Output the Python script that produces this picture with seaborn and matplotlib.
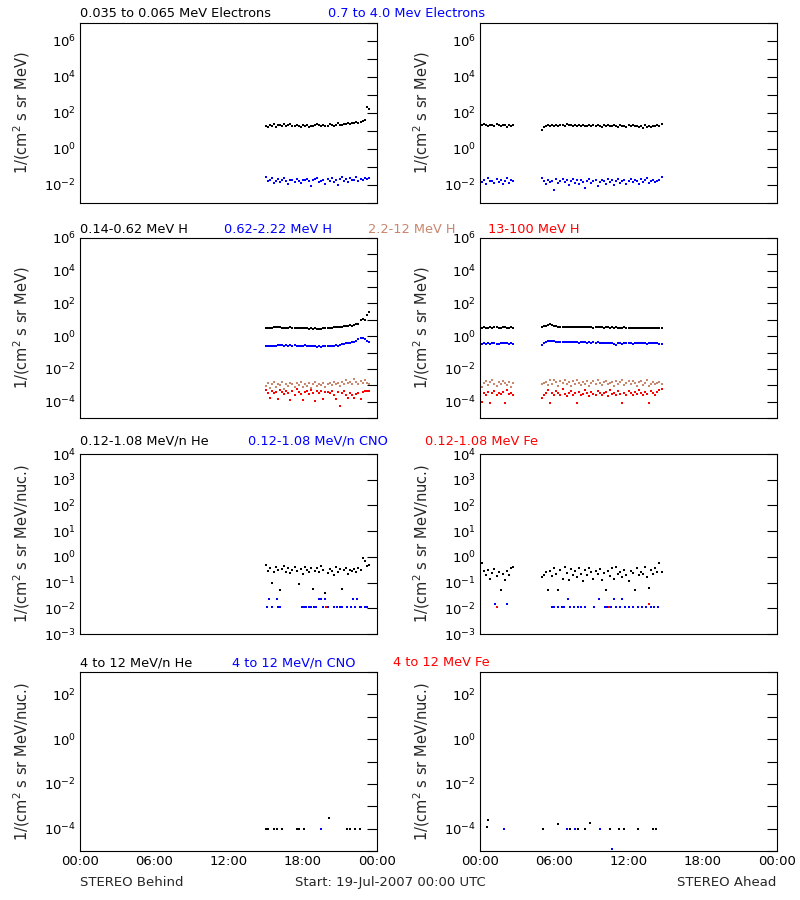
import numpy as np
import pandas as pd
import matplotlib
matplotlib.use("Agg")
import matplotlib.pyplot as plt
import matplotlib.ticker as mticker
import seaborn as sns

sns.set_style("white")
plt.rcParams["font.family"] = ["DejaVu Sans"]
plt.rcParams["mathtext.default"] = "regular"

BLUE = "#0000ff"
TAN = "#c8866c"
RED = "#ff0000"

# time grids (hours of 19-Jul-2007), 10 min cadence
t_behind = np.linspace(15, 23 + 1/3, 51)
t_ahead = np.concatenate([np.linspace(0, 2 + 2/3, 17), np.linspace(5, 14 + 2/3, 59)])

# ---- row 1: electrons (log10 values) ----
e_lo_b = [1.30, 1.22, 1.35, 1.28, 1.38, 1.25, 1.33,
          1.36, 1.30, 1.40, 1.27, 1.33, 1.38,
          1.30, 1.26, 1.34, 1.29, 1.22, 1.31,
          1.27, 1.33, 1.25, 1.30, 1.28, 1.35,
          1.40, 1.32, 1.26, 1.35, 1.30, 1.28,
          1.37, 1.33, 1.29, 1.36, 1.42, 1.31,
          1.34, 1.40, 1.37, 1.44, 1.38, 1.45,
          1.43, 1.48, 1.46, 1.52, 1.55, 1.60,
          2.33, 2.22]
e_hi_b = [-1.55, -1.80, -1.70, -1.62, -1.90, -1.75, -1.68,
          -1.85, -1.72, -1.60, -1.78, -1.95, -1.74,
          -1.70, -1.82, -1.66, -1.76, -1.88, -1.70,
          -1.73, -1.64, -1.80, -2.05, -1.72, -1.67,
          -1.60, -1.84, -1.75, -1.70, -1.92, -1.66,
          -1.78, -1.62, -1.85, -1.72, -1.98, -1.65,
          -1.58, -1.76, -1.66, -1.82, -1.62, -1.74,
          -1.70, -1.58, -1.80, -1.66, -1.74, -1.61,
          -1.68, -1.60]
e_lo_a = [1.25, 1.32, 1.40, 1.35, 1.28, 1.36, 1.33, 1.30, 1.38, 1.34, 1.29, 1.36, 1.31, 1.25, 1.33, 1.28, 1.36,
          1.08, 1.22, 1.30, 1.35, 1.27, 1.33, 1.30, 1.34, 1.28, 1.36,
          1.33, 1.29, 1.37, 1.31, 1.34, 1.27, 1.32, 1.30, 1.35, 1.28,
          1.33, 1.30, 1.26, 1.34, 1.29, 1.31, 1.27, 1.33, 1.30, 1.25,
          1.32, 1.28, 1.35, 1.30, 1.26, 1.31, 1.29, 1.24, 1.33, 1.27,
          1.30, 1.22, 1.32, 1.28, 1.34, 1.26, 1.30, 1.23, 1.29, 1.18,
          1.31, 1.25, 1.28, 1.20, 1.27, 1.30, 1.33, 1.29, 1.38]
e_hi_a = [-2.00, -1.85, -1.70, -1.95, -1.60, -1.80, -1.75, -1.90, -1.65, -1.82, -1.72, -1.95, -1.78, -1.62, -1.88, -1.70, -1.80,
          -1.62, -1.80, -1.95, -1.70, -1.85, -1.75, -2.30, -1.68, -1.90, -1.78,
          -1.66, -1.85, -1.72, -2.00, -1.76, -1.64, -1.88, -1.74, -1.95, -1.70,
          -1.82, -2.15, -1.78, -1.66, -1.90, -1.80, -1.72, -2.05, -1.86, -1.70,
          -1.76, -1.94, -1.68, -1.82, -1.74, -2.02, -1.80, -1.66, -1.88, -1.76,
          -1.70, -1.92, -1.78, -1.64, -1.86, -1.72, -1.80, -1.96, -1.68, -1.84,
          -1.74, -1.62, -1.90, -1.78, -1.70, -1.86, -1.80, -1.74, -1.58]

# ---- row 2: protons (log10 values) ----
h1_b = [0.52, 0.50, 0.53, 0.51, 0.54, 0.55, 0.56,
        0.57, 0.50, 0.52, 0.53, 0.51, 0.54,
        0.52, 0.50, 0.49, 0.51, 0.50, 0.48,
        0.47, 0.50, 0.46, 0.48, 0.45, 0.47,
        0.44, 0.46, 0.45, 0.49, 0.51, 0.50,
        0.50, 0.53, 0.54, 0.56, 0.55, 0.58,
        0.57, 0.62, 0.64, 0.63, 0.68, 0.65,
        0.70, 0.72, 0.75, 1.00, 1.02, 1.00,
        1.28, 1.48]
h2_b = [-0.60, -0.58, -0.59, -0.57, -0.60, -0.58, -0.56,
        -0.55, -0.54, -0.57, -0.55, -0.58, -0.56,
        -0.57, -0.55, -0.60, -0.62, -0.58, -0.57,
        -0.56, -0.59, -0.62, -0.60, -0.57, -0.63,
        -0.66, -0.62, -0.64, -0.60, -0.58, -0.61,
        -0.59, -0.60, -0.58, -0.56, -0.57, -0.55,
        -0.50, -0.45, -0.42, -0.44, -0.40, -0.36,
        -0.38, -0.30, -0.20, -0.12, -0.10, -0.18,
        -0.28, -0.35]
h3_b = [-3.05, -2.85, -3.15, -2.95, -2.80, -3.10, -2.90,
        -3.00, -2.82, -3.20, -2.92, -3.05, -2.88,
        -2.95, -3.12, -2.85, -3.00, -2.78, -3.08,
        -2.90, -3.02, -2.86, -3.15, -2.95, -2.82,
        -3.05, -2.90, -2.98, -2.84, -3.10, -2.92,
        -2.88, -3.00, -2.80, -2.94, -2.86, -3.05,
        -2.78, -2.92, -2.70, -2.88, -2.82, -2.95,
        -2.62, -2.80, -2.90, -2.72, -2.85, -2.68,
        -2.85, -2.90]
h4_b = [-3.30, -3.45, -3.80, -3.35, -3.50, -3.40, -3.85,
        -3.30, -3.42, -3.55, -3.38, -3.48, -3.90,
        -3.36, -3.60, -3.25, -3.44, -3.52, -3.90,
        -3.40, -3.35, -3.55, -3.30, -3.46, -3.95,
        -3.38, -3.50, -3.32, -3.85, -3.44, -3.40,
        -3.48, -3.36, -3.58, -3.85, -3.42, -4.25,
        -3.50, -3.38, -3.62, -3.80, -3.45, -3.58,
        -3.80, -3.52, -3.48, -3.85, -3.40, -3.35,
        -3.38, -3.32]
h1_a = [0.50, 0.52, 0.54, 0.51, 0.53, 0.55, 0.52, 0.54, 0.56, 0.53, 0.51, 0.54, 0.55, 0.52, 0.53, 0.54, 0.52,
        0.58, 0.60, 0.62, 0.70, 0.73, 0.66, 0.62, 0.60, 0.58, 0.56,
        0.58, 0.57, 0.55, 0.56, 0.58, 0.57, 0.55, 0.56, 0.54, 0.56,
        0.57, 0.55, 0.54, 0.56, 0.55, 0.53, 0.55, 0.56, 0.54, 0.55,
        0.53, 0.54, 0.55, 0.52, 0.54, 0.53, 0.55, 0.52, 0.50, 0.53,
        0.54, 0.51, 0.52, 0.50, 0.53, 0.51, 0.52, 0.48, 0.50, 0.52,
        0.47, 0.50, 0.51, 0.49, 0.52, 0.50, 0.51, 0.53, 0.52]
h2_a = [-0.42, -0.48, -0.44, -0.46, -0.43, -0.47, -0.44, -0.42, -0.45, -0.46, -0.43, -0.44, -0.41, -0.44, -0.45, -0.43, -0.46,
        -0.55, -0.40, -0.34, -0.30, -0.28, -0.32, -0.30, -0.34, -0.33, -0.36,
        -0.35, -0.34, -0.37, -0.35, -0.36, -0.38, -0.36, -0.37, -0.39, -0.36,
        -0.38, -0.37, -0.40, -0.38, -0.39, -0.37, -0.40, -0.38, -0.42, -0.39,
        -0.41, -0.40, -0.43, -0.40, -0.42, -0.46, -0.52, -0.44, -0.42, -0.45,
        -0.43, -0.41, -0.44, -0.42, -0.45, -0.43, -0.40, -0.44, -0.42, -0.41,
        -0.43, -0.45, -0.42, -0.40, -0.44, -0.41, -0.43, -0.45, -0.46]
h3_a = [-2.95, -3.10, -2.85, -2.75, -3.00, -2.80, -2.70, -2.95, -3.05, -2.78, -2.90, -2.72, -2.85, -3.00, -2.80, -3.10, -2.88,
        -2.95, -2.85, -2.78, -3.00, -2.70, -2.92, -2.65, -2.82, -3.05, -2.75,
        -2.88, -2.70, -2.95, -2.80, -3.02, -2.76, -2.90, -2.68, -2.85, -3.00,
        -2.78, -2.92, -2.72, -3.05, -2.84, -2.75, -2.95, -2.70, -2.88, -3.00,
        -2.80, -2.72, -2.93, -2.85, -2.78, -3.05, -2.75, -2.90, -2.82, -2.70,
        -3.00, -2.86, -2.76, -2.94, -2.72, -2.88, -3.02, -2.80, -2.74, -2.96,
        -2.84, -2.70, -3.05, -2.90, -2.78, -2.95, -2.85, -2.80, -2.92]
h4_a = [-3.30, -4.05, -3.45, -3.60, -3.40, -4.10, -3.50, -3.35, -3.62, -3.45, -3.55, -3.40, -4.10, -3.30, -3.52, -3.45, -3.60,
        -3.75, -3.60, -3.45, -3.30, -4.10, -3.50, -3.62, -3.35, -3.48, -3.60,
        -3.25, -3.52, -3.65, -3.45, -3.38, -3.60, -3.50, -4.10, -3.42, -3.62,
        -3.55, -3.30, -3.48, -3.65, -3.40, -3.52, -3.60, -3.35, -3.46, -3.62,
        -3.50, -3.40, -3.65, -3.28, -3.55, -3.45, -3.62, -3.38, -3.52, -4.10,
        -3.45, -3.60, -3.32, -3.50, -3.62, -3.40, -3.55, -3.28, -3.48, -3.60,
        -3.42, -3.56, -4.10, -3.35, -3.50, -3.62, -3.40, -3.30, -3.25]

# ---- row 3: 0.12-1.08 MeV/n heavy ions (log10 values) ----
he_lo_b = [-0.30, -0.55, -0.45, -1.00, -0.60, -0.40, -0.52,
           -1.30, -0.48, -0.35, -0.58, -0.44, -0.62,
           -0.50, -0.40, -0.56, -1.05, -0.46, -0.65,
           -0.38, -0.52, -0.60, -0.45, -1.25, -0.55,
           -0.42, -0.58, -0.36, -0.50, -1.40, -0.62,
           -0.46, -0.54, -0.70, -0.40, -0.60, -0.48,
           -1.25, -0.52, -0.44, -0.66, -0.50, -0.56,
           -0.48, -0.60, -0.45, -0.52, -0.05, -0.15,
           -0.35, -0.30]
he_lo_a = [-0.60, -0.25, -0.55, -0.70, -0.50, -0.85, -0.62, -0.48, -0.75, -0.58, -1.30, -0.66, -0.90, -0.55, -0.70, -0.42, -0.40,
           -0.80, -0.70, -0.60, -1.30, -0.55, -0.75, -0.45, -0.65, -1.30, -0.50,
           -0.85, -0.40, -0.62, -0.90, -0.48, -0.70, -0.55, -0.80, -0.45, -0.65,
           -0.92, -0.50, -0.72, -0.42, -0.60, -0.85, -0.55, -0.68, -0.48, -0.90,
           -0.62, -1.30, -0.55, -0.75, -0.45, -0.88, -0.40, -0.65, -0.58, -0.80,
           -0.50, -0.70, -0.95, -0.55, -0.62, -1.30, -0.45, -0.72, -0.58, -0.68,
           -0.40, -0.80, -1.20, -0.52, -0.66, -0.45, -0.60, -0.22, -0.58]
cno_lo_b_t = [15.1, 15.3, 15.5, 15.9, 16.0, 16.2, 17.9, 18.1, 18.3, 18.5, 18.7, 18.9, 19.1, 19.3, 19.5,
              19.6, 19.8, 20.0, 20.5, 20.8, 21.0, 21.2, 21.6, 21.9, 22.1, 22.2, 22.4, 22.6, 22.7, 23.0, 23.2]
cno_lo_b = [-1.96, -1.65, -1.96, -1.65, -1.96, -1.96, -1.96, -1.96, -1.96, -1.96, -1.96, -1.96, -1.96, -1.65, -1.65,
            -1.96, -1.65, -1.96, -1.96, -1.96, -1.96, -1.96, -1.96, -1.96, -1.65, -1.96, -1.65, -1.96, -1.96, -1.96, -1.96]
fe_lo_b_t = [19.9]
fe_lo_b = [-1.96]
cno_lo_a_t = [1.2, 2.2, 5.8, 6.0, 6.3, 6.6, 6.8, 7.1, 7.3, 7.6, 7.9, 8.2, 8.5, 9.2, 9.65, 10.1, 10.3, 10.6,
              10.8, 11.0, 11.3, 11.5, 11.7, 12.0, 12.4, 12.8, 13.1, 13.4, 13.8, 14.1, 14.4]
cno_lo_a = [-1.82, -1.82, -1.96, -1.96, -1.96, -1.96, -1.96, -1.65, -1.96, -1.96, -1.96, -1.96, -1.96, -1.96, -1.65, -1.96, -1.96, -1.96,
            -1.65, -1.96, -1.96, -1.65, -1.96, -1.96, -1.96, -1.96, -1.96, -1.96, -1.96, -1.96, -1.96]
fe_lo_a_t = [1.35, 10.4, 13.65]
fe_lo_a = [-1.96, -1.96, -1.82]

# ---- row 4: 4-12 MeV/n heavy ions (log10 values) ----
he_hi_b_t = [15.05, 15.2, 15.7, 15.9, 16.3, 17.5, 17.7, 18.1, 20.1, 21.6, 21.8, 22.2, 22.6]
he_hi_b = [-4.0, -4.0, -4.0, -4.0, -4.0, -4.0, -4.0, -4.0, -3.53, -4.0, -4.0, -4.0, -4.0]
cno_hi_b_t = [19.5]
cno_hi_b = [-4.0]
he_hi_a_t = [0.55, 0.65, 5.1, 6.3, 7.3, 7.9, 8.5, 8.9, 10.5, 11.2, 11.6, 12.8, 14.0, 14.2]
he_hi_a = [-3.92, -3.62, -4.0, -3.8, -4.0, -4.0, -4.0, -3.75, -4.0, -4.0, -4.0, -4.0, -4.0, -4.0]
cno_hi_a_t = [1.95, 7.0, 7.7, 9.7, 10.7]
cno_hi_a = [-4.0, -4.0, -4.0, -4.0, -4.9]

W, H = 800, 900
fig = plt.figure(figsize=(8, 9), dpi=100)

rows = [  # (top px, bottom px, ylim exp, label, titles, title baseline px)
    (23, 203, (-3, 7), "1/(cm$^2$ s sr MeV)",
     [("0.035 to 0.065 MeV Electrons", "black", 80), ("0.7 to 4.0 Mev Electrons", BLUE, 328)], 17),
    (238, 418, (-5, 6), "1/(cm$^2$ s sr MeV)",
     [("0.14-0.62 MeV H", "black", 80), ("0.62-2.22 MeV H", BLUE, 224),
      ("2.2-12 MeV H", TAN, 368), ("13-100 MeV H", RED, 488)], 233),
    (454, 634, (-3, 4), "1/(cm$^2$ s sr MeV/nuc.)",
     [("0.12-1.08 MeV/n He", "black", 80), ("0.12-1.08 MeV/n CNO", BLUE, 248),
      ("0.12-1.08 MeV Fe", RED, 425)], 445),
    (672, 851, (-5, 3), "1/(cm$^2$ s sr MeV/nuc.)",
     [("4 to 12 MeV/n He", "black", 80), ("4 to 12 MeV/n CNO", BLUE, 232),
      ("4 to 12 MeV Fe", RED, 393)], 666),
]

series = [
    ([(t_behind, e_lo_b, "black"), (t_behind, e_hi_b, BLUE)],
     [(t_ahead, e_lo_a, "black"), (t_ahead, e_hi_a, BLUE)]),
    ([(t_behind, h1_b, "black"), (t_behind, h2_b, BLUE), (t_behind, h3_b, TAN), (t_behind, h4_b, RED)],
     [(t_ahead, h1_a, "black"), (t_ahead, h2_a, BLUE), (t_ahead, h3_a, TAN), (t_ahead, h4_a, RED)]),
    ([(t_behind, he_lo_b, "black"), (cno_lo_b_t, cno_lo_b, BLUE), (fe_lo_b_t, fe_lo_b, RED)],
     [(t_ahead, he_lo_a, "black"), (cno_lo_a_t, cno_lo_a, BLUE), (fe_lo_a_t, fe_lo_a, RED)]),
    ([(he_hi_b_t, he_hi_b, "black"), (cno_hi_b_t, cno_hi_b, BLUE)],
     [(he_hi_a_t, he_hi_a, "black"), (cno_hi_a_t, cno_hi_a, BLUE)]),
]

fmt = mticker.FuncFormatter(lambda v, p: "$10^{%d}$" % int(round(np.log10(v))))

for r, (top, bot, (ylo, yhi), ylab, titles, tb) in enumerate(rows):
    for c, x0 in enumerate([80, 480]):
        ax = fig.add_axes([x0 / W, 1 - bot / H, 297 / W, (bot - top) / H])
        for t, v, col in series[r][c]:
            df = pd.DataFrame({"t": t, "flux": 10.0 ** np.asarray(v)})
            sns.scatterplot(data=df, x="t", y="flux", color=col, marker="s", s=4,
                            linewidth=0, ax=ax, legend=False)
        ax.set_yscale("log")
        ax.set_ylim(10.0 ** ylo, 10.0 ** yhi)
        ax.set_xlim(0, 24)
        step = 1 if r == 2 else 2
        even = [e for e in range(ylo, yhi + 1) if (e % step == 0)]
        odd = [] if step == 1 else [e for e in range(ylo, yhi + 1) if e % 2 != 0]
        ax.yaxis.set_major_locator(mticker.FixedLocator([10.0 ** e for e in even]))
        ax.yaxis.set_minor_locator(mticker.FixedLocator([10.0 ** e for e in odd]))
        ax.yaxis.set_major_formatter(fmt)
        ax.yaxis.set_minor_formatter(mticker.NullFormatter())
        ax.xaxis.set_major_locator(mticker.FixedLocator([0, 6, 12, 18, 24]))
        ax.xaxis.set_minor_locator(mticker.FixedLocator(range(0, 25, 2)))
        if r == 3:
            ax.set_xticklabels(["00:00", "06:00", "12:00", "18:00", "00:00"])
        else:
            ax.set_xticklabels([])
        ax.set_xlabel("")
        ax.set_ylabel(ylab, fontsize=10.5)
        ax.yaxis.set_label_coords(-0.16, 0.5)
        ax.tick_params(which="both", direction="in", right=True, top=False, labelsize=9.5,
                       width=0.8, colors="black", pad=3)
        ax.tick_params(which="major", length=7)
        ax.tick_params(axis="x", which="minor", length=3.5)
        ax.tick_params(axis="y", which="minor", length=7)
        for s in ax.spines.values():
            s.set_color("black")
            s.set_linewidth(0.8)
    for text, col, xp in titles:
        fig.text(xp / W, 1 - tb / H, text, color=col, fontsize=9.3, va="baseline", ha="left")

fig.text(80 / W, 1 - 886 / H, "STEREO Behind", fontsize=9.5, va="baseline", ha="left")
fig.text(295 / W, 1 - 886 / H, "Start: 19-Jul-2007 00:00 UTC", fontsize=9.5, va="baseline", ha="left")
fig.text(776 / W, 1 - 886 / H, "STEREO Ahead", fontsize=9.5, va="baseline", ha="right")

fig.savefig("out.png", dpi=100, facecolor="white")
